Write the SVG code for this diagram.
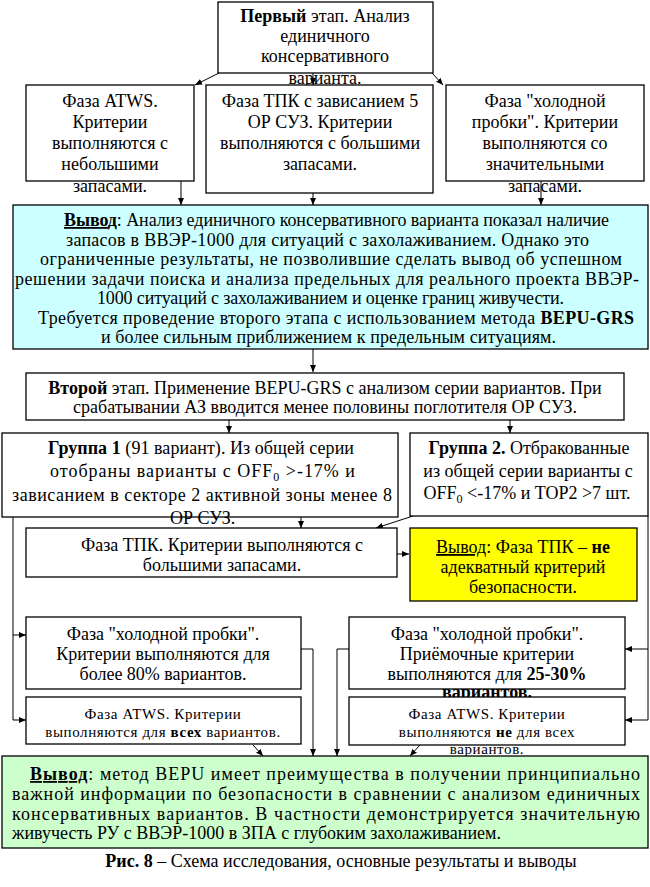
<svg xmlns="http://www.w3.org/2000/svg" width="650" height="887" viewBox="0 0 650 887">
<style>
.t{font-family:"Liberation Serif","Times New Roman",serif;font-size:18px;fill:#000}
.s{font-size:15px;letter-spacing:0.6px}
.m{text-anchor:middle}
.b{font-weight:bold}
.u{text-decoration:underline}
.box{fill:#fff;stroke:#000;stroke-width:1.3}
.cyan{fill:#ccffff}
.yel{fill:#ffff00}
.grn{fill:#ccffcc}
.ln{fill:none;stroke:#000;stroke-width:1}
.ar{fill:none;stroke:#000;stroke-width:1;marker-end:url(#ah)}
</style>
<defs>
<marker id="ah" markerWidth="8" markerHeight="8" refX="7" refY="4" orient="auto" markerUnits="userSpaceOnUse"><path d="M0,1 L7,4 L0,7 z" fill="#000"/></marker>
</defs>
<rect width="650" height="887" fill="#fff"/>

<g id="connectors">
<path class="ar" d="M219,73 L195,85"/>
<path class="ar" d="M313,73 L313,85"/>
<path class="ar" d="M432,73 L443,85"/>
<path class="ar" d="M181,181 L181,205"/>
<path class="ar" d="M313,193 L313,205"/>
<path class="ar" d="M541,181 L541,205"/>
<path class="ar" d="M313,349 L313,372"/>
<path class="ar" d="M229,420 L229,433"/>
<path class="ar" d="M510,420 L510,433"/>
<path class="ar" d="M301,517 L301,528"/>
<path class="ar" d="M413,516 L376,528"/>
<path class="ar" d="M397,554 L409,554"/>
<path class="ln" d="M13,517 L13,720"/>
<path class="ar" d="M13,635 L26,635"/>
<path class="ar" d="M13,720 L26,720"/>
<path class="ln" d="M648,516 L648,720"/>
<path class="ar" d="M648,649 L625,649"/>
<path class="ar" d="M648,720 L625,720"/>
<path class="ar" d="M301,649 L313,649 L313,756"/>
<path class="ar" d="M349,649 L337,649 L337,756"/>
<path class="ar" d="M253,745 L263,756"/>
<path class="ar" d="M420,745 L410,756"/>
</g>

<g id="stage1">
<rect class="box" x="218" y="2" width="215" height="71"/>
<text class="t m" x="325"><tspan x="325" y="22"><tspan class="b">Первый</tspan> этап. Анализ</tspan><tspan x="325" y="42">единичного</tspan><tspan x="325" y="62">консервативного</tspan><tspan x="325" y="84">варианта.</tspan></text>
</g>

<g id="atws1">
<rect class="box" x="26" y="85" width="168" height="96"/>
<text class="t m"><tspan x="110" y="107">Фаза ATWS.</tspan><tspan x="110" y="128">Критерии</tspan><tspan x="110" y="149">выполняются с</tspan><tspan x="110" y="170">небольшими</tspan><tspan x="110" y="192">запасами.</tspan></text>
</g>

<g id="tpk1">
<rect class="box" x="206" y="85" width="227" height="108"/>
<text class="t m"><tspan x="320" y="107">Фаза ТПК с зависанием 5</tspan><tspan x="320" y="128">ОР СУЗ. Критерии</tspan><tspan x="320" y="149">выполняются с большими</tspan><tspan x="320" y="170">запасами.</tspan></text>
</g>

<g id="cold1">
<rect class="box" x="446" y="85" width="198" height="96"/>
<text class="t m"><tspan x="545" y="107">Фаза "холодной</tspan><tspan x="545" y="128">пробки". Критерии</tspan><tspan x="545" y="149">выполняются со</tspan><tspan x="545" y="170">значительными</tspan><tspan x="545" y="192">запасами.</tspan></text>
</g>

<g id="conclusion1">
<rect class="box cyan" x="13" y="205" width="635" height="144"/>
<text class="t"><tspan x="64" y="226" textLength="545" lengthAdjust="spacing"><tspan class="b u">Вывод</tspan>: Анализ единичного консервативного варианта показал наличие</tspan><tspan x="66" y="245.5" textLength="523" lengthAdjust="spacing">запасов в ВВЭР-1000 для ситуаций с захолаживанием. Однако это</tspan><tspan x="40" y="265" textLength="582" lengthAdjust="spacing">ограниченные результаты, не позволившие сделать вывод об успешном</tspan><tspan x="15" y="284.5" textLength="624" lengthAdjust="spacing">решении задачи поиска и анализа предельных для реального проекта ВВЭР-</tspan><tspan x="97" y="304" textLength="467" lengthAdjust="spacing">1000 ситуаций с захолаживанием и оценке границ живучести.</tspan><tspan x="38" y="323.5" textLength="596" lengthAdjust="spacing">Требуется проведение второго этапа с использованием метода <tspan class="b">BEPU-GRS</tspan></tspan><tspan x="101" y="343" textLength="455" lengthAdjust="spacing">и более сильным приближением к предельным ситуациям.</tspan></text>
</g>

<g id="stage2">
<rect class="box" x="26" y="373" width="598" height="47"/>
<text class="t m"><tspan x="325" y="394"><tspan class="b">Второй</tspan> этап. Применение BEPU-GRS с анализом серии вариантов. При</tspan><tspan x="325" y="413">срабатывании АЗ вводится менее половины поглотителя ОР СУЗ.</tspan></text>
</g>

<g id="group1">
<rect class="box" x="2" y="433" width="396" height="84"/>
<text class="t"><tspan x="48" y="454" textLength="306" lengthAdjust="spacing"><tspan class="b">Группа 1</tspan> (91 вариант). Из общей серии</tspan><tspan x="50" y="477" textLength="305" lengthAdjust="spacing">отобраны варианты с  OFF<tspan font-size="12" dy="4">0</tspan><tspan dy="-4"> &gt;-17% и</tspan></tspan><tspan x="12" y="501" textLength="380" lengthAdjust="spacing">зависанием в секторе 2 активной зоны менее 8</tspan><tspan x="170" y="524">ОР СУЗ.</tspan></text>
</g>

<g id="group2">
<rect class="box" x="410" y="433" width="238" height="83"/>
<text class="t m"><tspan x="529" y="454"><tspan class="b">Группа 2.</tspan> Отбракованные</tspan><tspan x="528" y="477">из общей серии варианты с</tspan><tspan x="527" y="499">OFF<tspan font-size="12" dy="4">0</tspan><tspan dy="-4"> &lt;-17% и TOP2 &gt;7 шт.</tspan></tspan></text>
</g>

<g id="tpk2">
<rect class="box" x="26" y="528" width="371" height="49"/>
<text class="t m"><tspan x="222" y="551">Фаза ТПК. Критерии выполняются с</tspan><tspan x="222" y="571">большими запасами.</tspan></text>
</g>

<g id="conclusion-tpk">
<rect class="box yel" x="410" y="528" width="227" height="73"/>
<text class="t m"><tspan x="523" y="553"><tspan class="u">Вывод</tspan>: Фаза ТПК – <tspan class="b">не</tspan></tspan><tspan x="523" y="573">адекватный критерий</tspan><tspan x="523" y="593">безопасности.</tspan></text>
</g>

<g id="cold2-left">
<rect class="box" x="26" y="617" width="275" height="72"/>
<text class="t m"><tspan x="163" y="640">Фаза "холодной пробки".</tspan><tspan x="163" y="660">Критерии выполняются для</tspan><tspan x="163" y="680">более 80% вариантов.</tspan></text>
</g>

<g id="atws2-left">
<rect class="box" x="26" y="697" width="275" height="47"/>
<text class="t s m"><tspan x="163" y="719">Фаза ATWS. Критерии</tspan><tspan x="163" y="737">выполняются для <tspan class="b">всех</tspan> вариантов.</tspan></text>
</g>

<g id="cold2-right">
<rect class="box" x="349" y="617" width="276" height="72"/>
<text class="t m"><tspan x="487" y="640">Фаза "холодной пробки".</tspan><tspan x="487" y="660">Приёмочные критерии</tspan><tspan x="487" y="680">выполняются для <tspan class="b">25-30%</tspan></tspan><tspan x="487" y="698" class="b">вариантов.</tspan></text>
</g>

<g id="atws2-right">
<rect class="box" x="349" y="697" width="276" height="48"/>
<text class="t s m"><tspan x="487" y="719">Фаза ATWS. Критерии</tspan><tspan x="487" y="737">выполняются <tspan class="b">не</tspan> для всех</tspan><tspan x="487" y="754">вариантов.</tspan></text>
</g>

<g id="conclusion-final">
<rect class="box grn" x="2" y="756" width="646" height="92"/>
<text class="t"><tspan x="30" y="780" textLength="610" lengthAdjust="spacing"><tspan class="b u">Вывод</tspan>:  метод BEPU имеет преимущества в получении  принципиально</tspan><tspan x="12" y="800" textLength="628" lengthAdjust="spacing">важной информации по безопасности в сравнении с анализом единичных</tspan><tspan x="12" y="820" textLength="628" lengthAdjust="spacing">консервативных вариантов. В частности демонстрируется значительную</tspan><tspan x="12" y="839">живучесть РУ с ВВЭР-1000 в ЗПА с глубоким захолаживанием.</tspan></text>
</g>

<g id="caption">
<text class="t m"><tspan x="341" y="867"><tspan class="b">Рис. 8</tspan> – Схема исследования, основные результаты и выводы</tspan></text>
</g>
</svg>
